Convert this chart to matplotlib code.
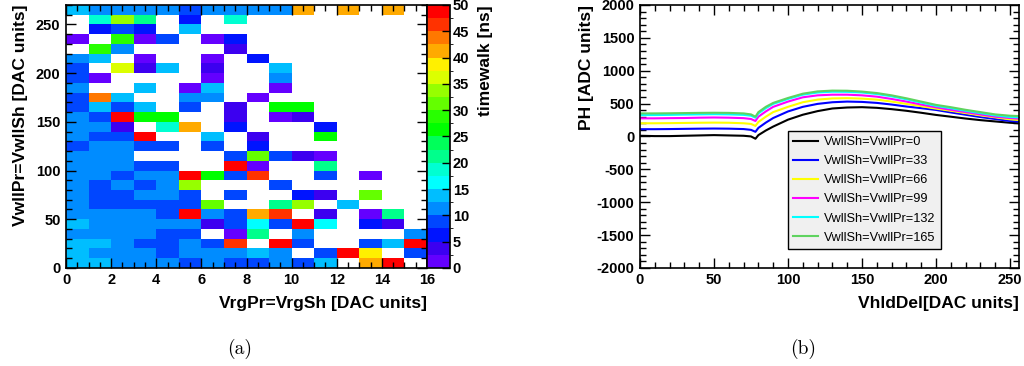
import numpy as np
import matplotlib
matplotlib.use("Agg")
from matplotlib import pyplot as plt
from matplotlib.colors import ListedColormap, BoundaryNorm
from matplotlib.ticker import MultipleLocator

plt.rcParams["font.family"] = ["Liberation Sans", "DejaVu Sans"]
plt.rcParams["axes.unicode_minus"] = False

_ = np.nan

# (a) timewalk [ns] per bin, rows from top (260-270) down to bottom (0-10), 16 columns
timewalk = [
    [13.7, 11.2, 11.2, 11.2, 11.2, 8.7, 11.2, 11.2, 11.2, 11.2, 41.2, _, 41.2, _, 41.2, _],
    [_, 18.7, 33.7, 21.2, _, 6.2, _, 18.7, _, _, _, _, _, _, _, _],
    [_, 6.2, 8.7, 6.2, _, 13.7, _, _, _, _, _, _, _, _, _, _],
    [1.2, _, 28.7, 1.2, 8.7, _, 1.2, 6.2, _, _, _, _, _, _, _, _],
    [_, 28.7, 11.2, _, _, _, _, 3.7, _, _, _, _, _, _, _, _],
    [11.2, 13.7, _, 1.2, _, _, 1.2, _, 6.2, _, _, _, _, _, _, _],
    [8.7, _, 36.2, 3.7, 13.7, _, 3.7, _, _, 13.7, _, _, _, _, _, _],
    [8.7, 1.2, _, _, _, _, 1.2, _, _, 11.2, _, _, _, _, _, _],
    [11.2, _, _, 13.7, _, 1.2, 13.7, _, _, 1.2, _, _, _, _, _, _],
    [8.7, 43.7, 13.7, _, _, 11.2, 11.2, _, 1.2, _, _, _, _, _, _, _],
    [8.7, 13.7, 8.7, 13.7, _, 8.7, _, 3.7, _, 26.2, 26.2, _, _, _, _, _],
    [11.2, 8.7, 48.7, 26.2, 26.2, _, _, 3.7, _, 1.2, 3.7, _, _, _, _, _],
    [11.2, 11.2, 3.7, _, 18.7, 41.2, _, 6.2, _, _, _, 6.2, _, _, _, _],
    [11.2, 8.7, 8.7, 48.7, _, _, 13.7, _, 3.7, _, _, 26.2, _, _, _, _],
    [8.7, 11.2, 11.2, 8.7, 8.7, _, 8.7, _, 6.2, _, _, _, _, _, _, _],
    [11.2, 11.2, 11.2, _, _, _, _, 8.7, 31.2, 8.7, 3.7, 1.2, _, _, _, _],
    [11.2, 11.2, 11.2, 8.7, 8.7, _, _, 48.7, 1.2, _, _, 21.2, _, _, _, _],
    [11.2, 11.2, 8.7, 11.2, 11.2, 48.7, 26.2, 8.7, 46.2, _, _, 8.7, _, 1.2, _, _],
    [11.2, 8.7, 11.2, 8.7, 11.2, 33.7, _, _, _, 8.7, _, _, _, _, _, _],
    [11.2, 8.7, 8.7, 11.2, 11.2, 8.7, _, 8.7, _, _, 6.2, 3.7, _, 31.2, _, _],
    [11.2, 8.7, 8.7, 8.7, 8.7, 8.7, 31.2, _, _, 21.2, 33.7, _, 13.7, _, _, _],
    [11.2, 11.2, 11.2, 11.2, 8.7, 48.7, 11.2, 8.7, 41.2, 46.2, _, 3.7, _, 1.2, 21.2, _],
    [13.7, 11.2, 11.2, 11.2, 11.2, 11.2, 3.7, 8.7, 16.2, 8.7, 48.7, 16.2, _, 6.2, 3.7, _],
    [11.2, 11.2, 11.2, 11.2, 8.7, 8.7, _, 1.2, 21.2, _, 11.2, _, _, _, _, 11.2],
    [13.7, 13.7, 11.2, 8.7, 8.7, 11.2, 8.7, 46.2, _, 48.7, 8.7, _, _, 8.7, 13.7, 48.7],
    [13.7, 11.2, 11.2, 11.2, 8.7, 11.2, 11.2, 11.2, 13.7, 11.2, _, 8.7, 48.7, 38.7, _, 8.7],
    [13.7, 13.7, 11.2, 11.2, 11.2, 8.7, 11.2, 8.7, 8.7, 11.2, 8.7, 13.7, _, 41.2, 48.7, _],
]
vrg_edges = np.arange(0, 17, 1)
vwll_edges = np.arange(0, 280, 10)

palette = [
    "#6400ff", "#3c00f0", "#0014ff", "#0046ff", "#008cff",
    "#00beff", "#00ffff", "#00ffd2", "#00ff8c", "#00ff5a",
    "#00ff00", "#28ff00", "#64ff00", "#96ff00", "#dcff00",
    "#fff000", "#ffaa00", "#ff7800", "#ff3200", "#ff0000",
]
levels = np.arange(0, 52.5, 2.5)

# (b) pulse height vs VhldDel
vhld = [0, 10, 20, 30, 40, 50, 60, 70, 75, 78, 80, 85, 90, 100, 110, 120, 130,
        140, 150, 160, 170, 180, 190, 200, 210, 220, 230, 240, 250, 256]
ph_0 = [10, 5, 5, 10, 15, 20, 15, 10, 0, -35, 20, 90, 150, 255, 330, 385, 425,
        440, 445, 435, 415, 390, 360, 327, 300, 272, 248, 228, 208, 200]
ph_33 = [110, 110, 112, 115, 118, 120, 118, 112, 100, 70, 130, 210, 280, 380, 450, 495, 520,
         530, 525, 510, 485, 455, 430, 403, 365, 330, 295, 265, 235, 225]
ph_66 = [200, 200, 202, 205, 208, 210, 208, 200, 190, 160, 220, 300, 370, 450, 520, 560, 578,
         582, 575, 560, 530, 495, 460, 423, 390, 355, 320, 290, 260, 250]
ph_99 = [275, 275, 278, 280, 285, 288, 285, 278, 265, 235, 300, 380, 450, 530, 595, 625, 635,
         635, 625, 605, 570, 530, 485, 443, 405, 370, 335, 300, 280, 270]
ph_132 = [325, 325, 328, 332, 335, 338, 335, 328, 315, 285, 350, 430, 495, 570, 635, 668, 680,
          678, 668, 645, 610, 565, 515, 464, 430, 390, 355, 320, 295, 290]
ph_165 = [350, 350, 352, 355, 358, 360, 358, 350, 335, 300, 370, 450, 510, 585, 650, 685, 697,
          695, 682, 660, 625, 580, 530, 480, 445, 405, 370, 335, 315, 310]
series = [ph_0, ph_33, ph_66, ph_99, ph_132, ph_165]
labels = ["VwllSh=VwllPr=0", "VwllSh=VwllPr=33", "VwllSh=VwllPr=66",
          "VwllSh=VwllPr=99", "VwllSh=VwllPr=132", "VwllSh=VwllPr=165"]
colors = ["black", "#0000ff", "#ffff00", "#ff00ff", "#00ffff", "#5fd35f"]

fig = plt.figure(figsize=(10.24, 3.66), dpi=100)
ax1 = fig.add_axes([0.0645, 0.268, 0.3525, 0.7185])
cax = fig.add_axes([0.417, 0.268, 0.0225, 0.7185])
ax2 = fig.add_axes([0.625, 0.268, 0.370, 0.7185])

tick_size = 10.5
label_size = 12.5

# heatmap
data = np.ma.masked_invalid(np.flipud(np.array(timewalk, dtype=float)))
cmap = ListedColormap(palette)
norm = BoundaryNorm(levels, cmap.N)
mesh = ax1.pcolormesh(vrg_edges, vwll_edges, data, cmap=cmap, norm=norm)
ax1.set_xlim(0, 16)
ax1.set_ylim(0, 270)
ax1.xaxis.set_major_locator(MultipleLocator(2))
ax1.xaxis.set_minor_locator(MultipleLocator(0.5))
ax1.yaxis.set_major_locator(MultipleLocator(50))
ax1.yaxis.set_minor_locator(MultipleLocator(10))
ax1.set_xlabel("VrgPr=VrgSh [DAC units]", fontsize=label_size, fontweight="bold",
               loc="right", labelpad=6)
ax1.set_ylabel("VwllPr=VwllSh [DAC units]", fontsize=label_size, fontweight="bold",
               loc="top", labelpad=6)

cb = fig.colorbar(mesh, cax=cax, ticks=np.arange(0, 55, 5))
cb.outline.set_linewidth(1.2)
cax.tick_params(direction="in", length=6, width=1, right=True, left=False, pad=2)
cax.set_yticklabels([str(v) for v in range(0, 55, 5)], fontsize=tick_size,
                    fontweight="bold")
cb.set_label("timewalk [ns]", fontsize=label_size, fontweight="bold", loc="top",
             labelpad=6)

# curves
for ys, lab, col in zip(series, labels, colors):
    ax2.plot(vhld, ys, color=col, linewidth=1.5, label=lab)
ax2.set_xlim(0, 256)
ax2.set_ylim(-2000, 2000)
ax2.xaxis.set_major_locator(MultipleLocator(50))
ax2.xaxis.set_minor_locator(MultipleLocator(10))
ax2.yaxis.set_major_locator(MultipleLocator(500))
ax2.yaxis.set_minor_locator(MultipleLocator(100))
ax2.set_xlabel("VhldDel[DAC units]", fontsize=label_size, fontweight="bold",
               loc="right", labelpad=6)
ax2.set_ylabel("PH [ADC units]", fontsize=label_size, fontweight="bold",
               loc="top", labelpad=2)
leg = ax2.legend(loc="upper left", bbox_to_anchor=(0.39, 0.521), fontsize=9.2,
                 frameon=True, fancybox=False, facecolor="#f0f0f0",
                 edgecolor="black", framealpha=1, handlelength=2.0,
                 handletextpad=0.45, labelspacing=0.56, borderpad=0.4,
                 borderaxespad=0)
leg.get_frame().set_linewidth(1.0)

for ax in (ax1, ax2):
    ax.tick_params(which="both", direction="in", top=True, right=True, pad=4)
    ax.tick_params(which="major", length=7, width=1)
    ax.tick_params(which="minor", length=4, width=1)
    for lbl in ax.get_xticklabels() + ax.get_yticklabels():
        lbl.set_fontweight("bold")
        lbl.set_fontsize(tick_size)
    for sp in ax.spines.values():
        sp.set_linewidth(1.2)

fig.text(0.234, 0.032, "(a)", fontsize=14, family="cmr10", ha="center")
fig.text(0.784, 0.032, "(b)", fontsize=14, family="cmr10", ha="center")

fig.savefig("out.png", dpi=100)
